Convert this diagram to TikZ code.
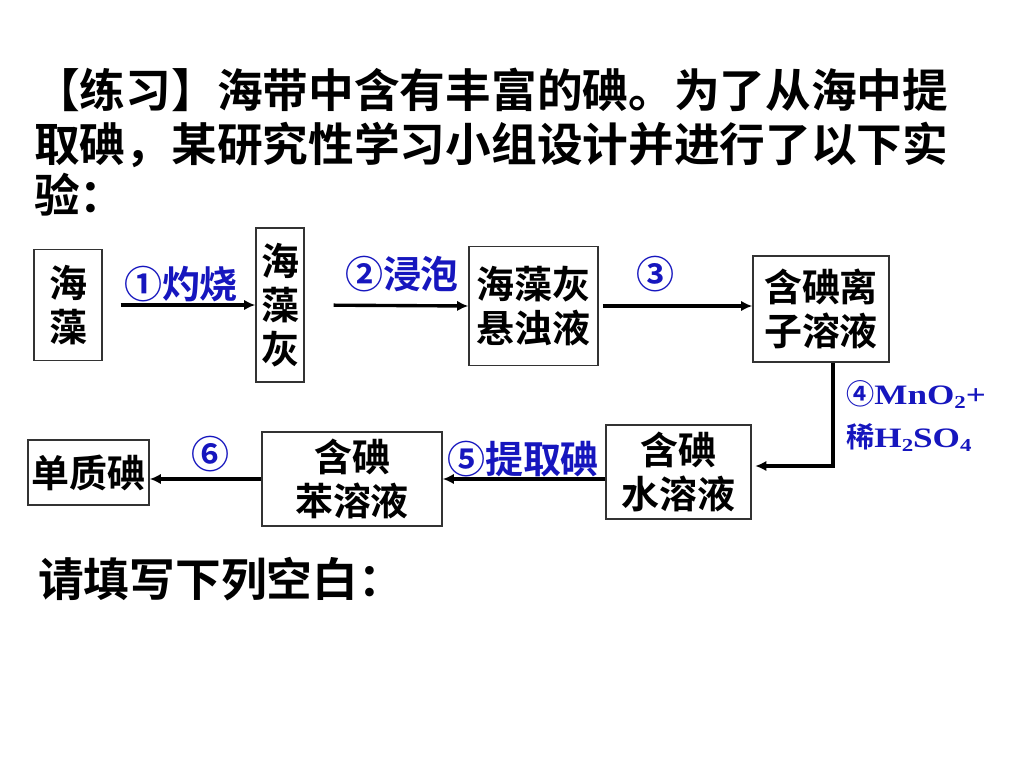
\documentclass[tikz,border=0pt]{standalone}
\usepackage{fontspec}
\usepackage{graphicx}
\usetikzlibrary{arrows.meta}
\newfontfamily\cjk{Noto Sans CJK SC Bold}
\newfontfamily\chemfont{Liberation Serif}
\definecolor{stepblue}{RGB}{22,22,190}
\newcommand{\chsub}[1]{\raisebox{-0.35ex}{\fontsize{13}{13}\selectfont #1}}
\newcommand{\chemtxt}[1]{\scalebox{1.25}[1]{\chemfont\bfseries #1}}

\begin{document}
\begin{tikzpicture}[x=0.025cm,y=-0.025cm,
  box/.style={draw=black!80,line width=1pt,inner sep=0pt,align=center,
    font=\cjk\fontsize{27}{31.5}\selectfont},
  lbl/.style={text=stepblue,inner sep=0pt,font=\cjk\fontsize{27}{31.5}\selectfont},
  ttl/.style={inner sep=0pt,anchor=base west,font=\cjk\fontsize{32.5}{38}\selectfont},
  arr/.style={line width=2.4pt,-{Latex[length=8pt,width=7.5pt]}}]
  \useasboundingbox (0,0) rectangle (1024,768);
  \node[ttl] (title1) at (34,108) {【练习】海带中含有丰富的碘。为了从海中提};
  \node[ttl] (title2) at (34,162) {取碘，某研究性学习小组设计并进行了以下实};
  \node[ttl] (title3) at (34,212) {验：};
  \node[box,minimum width=1.7cm,minimum height=2.775cm] (zao) at (68,305) {海\\藻};
  \node[box,minimum width=1.2cm,minimum height=3.85cm] (zaohui) at (280,305) {海\\藻\\灰};
  \node[box,minimum width=3.225cm,minimum height=2.975cm] (xuanzhuo) at (533.5,306) {海藻灰\\悬浊液};
  \node[box,minimum width=3.4cm,minimum height=2.65cm] (lizi) at (821,309) {含碘离\\子溶液};
  \node[box,minimum width=3.625cm,minimum height=2.35cm] (shui) at (678.5,472) {含碘\\水溶液};
  \node[box,minimum width=4.5cm,minimum height=2.35cm] (ben) at (352,479) {含碘\\苯溶液};
  \node[box,minimum width=3.025cm,minimum height=1.625cm] (danzhi) at (88.5,472.5) {单质碘};
  \coordinate (bend) at (833,466);
  \draw[arr,shorten <=12.8pt] (zao.east) -- (zaohui.west);
  \draw[arr,shorten <=20.5pt] (zaohui.east) -- (xuanzhuo.west);
  \draw[arr,shorten <=3pt] (xuanzhuo.east) -- (xuanzhuo.east -| lizi.west);
  \draw[arr,shorten >=2.5pt] (lizi.south -| bend) -- (bend) -- (bend -| shui.east);
  \draw[arr] (ben.east -| shui.west) -- (ben.east);
  \draw[arr] (ben.west) -- (ben.west -| danzhi.east);
  \node[lbl,anchor=base] (step1) at (181,298) {①灼烧};
  \node[lbl,anchor=base] (step2) at (402,288) {②浸泡};
  \node[lbl] (step3) at (655,274) {③};
  \node[lbl,anchor=north west,align=left,font=\cjk\fontsize{20}{30.5}\selectfont] (step4) at (846,380)
    {④\chemtxt{MnO\chsub{2}+}\\稀\chemtxt{H\chsub{2}SO\chsub{4}}};
  \node[lbl,anchor=base] (step5) at (523,473) {⑤提取碘};
  \node[lbl] (step6) at (210,454) {⑥};
  \node[ttl] (blank) at (38,596) {请填写下列空白：};
\end{tikzpicture}
\end{document}
